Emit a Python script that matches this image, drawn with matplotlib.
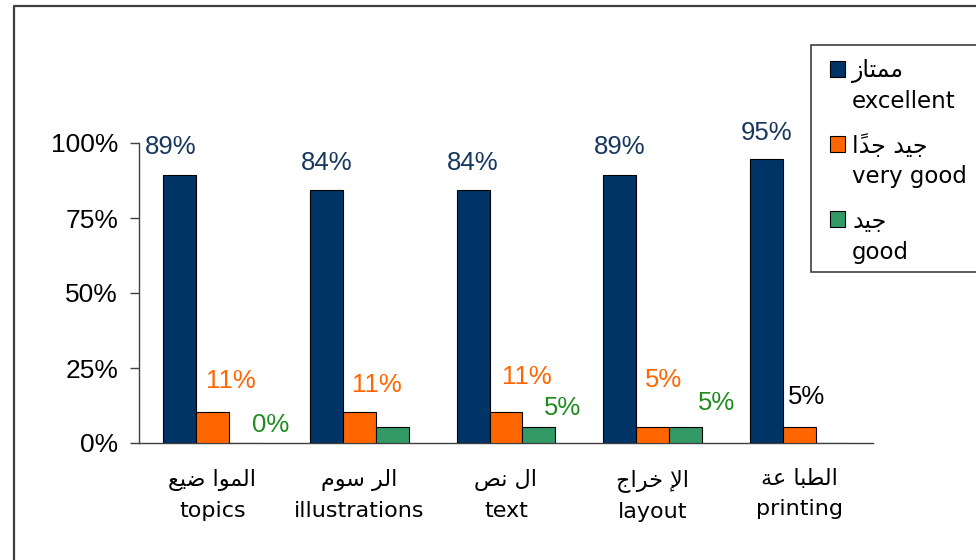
import matplotlib
matplotlib.use("Agg")
import matplotlib.pyplot as plt
from matplotlib.patches import Rectangle
from matplotlib.lines import Line2D
import numpy as np

# ---------------- data ----------------
cat_ar = ["الموا ضيع", "الر سوم", "ال نص", "الإ خراج", "الطبا عة"]
cat_en = ["topics", "illustrations", "text", "layout", "printing"]
series_ar = ["ممتاز", "جيد جدًا", "جيد"]
series_en = ["excellent", "very good", "good"]
excellent = [89.5, 84.2, 84.2, 89.5, 94.7]
very_good = [10.5, 10.5, 10.5, 5.3, 5.3]
good = [0.0, 5.3, 5.3, 5.3, 0.0]
lab_excellent = ["89%", "84%", "84%", "89%", "95%"]
lab_very_good = ["11%", "11%", "11%", "5%", "5%"]
lab_good = ["0%", None, "5%", "5%", None]
yticks = [0, 25, 50, 75, 100]
ytick_labels = ["0%", "25%", "50%", "75%", "100%"]

# ---------------- minimal Arabic shaping ----------------
FORMS = {
    'ا': ('\uFE8D', '\uFE8E', None, None),
    'إ': ('\uFE87', '\uFE88', None, None),
    'ب': ('\uFE8F', '\uFE90', '\uFE91', '\uFE92'),
    'ة': ('\uFE93', '\uFE94', None, None),
    'ت': ('\uFE95', '\uFE96', '\uFE97', '\uFE98'),
    'ج': ('\uFE9D', '\uFE9E', '\uFE9F', '\uFEA0'),
    'خ': ('\uFEA5', '\uFEA6', '\uFEA7', '\uFEA8'),
    'د': ('\uFEA9', '\uFEAA', None, None),
    'ر': ('\uFEAD', '\uFEAE', None, None),
    'ز': ('\uFEAF', '\uFEB0', None, None),
    'س': ('\uFEB1', '\uFEB2', '\uFEB3', '\uFEB4'),
    'ص': ('\uFEB9', '\uFEBA', '\uFEBB', '\uFEBC'),
    'ض': ('\uFEBD', '\uFEBE', '\uFEBF', '\uFEC0'),
    'ط': ('\uFEC1', '\uFEC2', '\uFEC3', '\uFEC4'),
    'ع': ('\uFEC9', '\uFECA', '\uFECB', '\uFECC'),
    'ل': ('\uFEDD', '\uFEDE', '\uFEDF', '\uFEE0'),
    'م': ('\uFEE1', '\uFEE2', '\uFEE3', '\uFEE4'),
    'ن': ('\uFEE5', '\uFEE6', '\uFEE7', '\uFEE8'),
    'و': ('\uFEED', '\uFEEE', None, None),
    'ي': ('\uFEF1', '\uFEF2', '\uFEF3', '\uFEF4'),
}
LAM_ALEF = {'ا': ('\uFEFB', '\uFEFC'), 'إ': ('\uFEF9', '\uFEFA')}
MARKS = set('\u064B\u064C\u064D\u064E\u064F\u0650\u0651\u0652')


def shape(s):
    clusters = []
    for ch in s:
        if ch in MARKS and clusters:
            clusters[-1][1] += ch
        else:
            clusters.append([ch, ""])
    out = []
    i = 0
    prev_joins = False
    while i < len(clusters):
        b, m = clusters[i]
        if b == 'ل' and i + 1 < len(clusters) and clusters[i + 1][0] in LAM_ALEF:
            lig = LAM_ALEF[clusters[i + 1][0]]
            g = lig[1] if prev_joins else lig[0]
            out.append(m + clusters[i + 1][1] + g)
            prev_joins = False
            i += 2
            continue
        if b in FORMS:
            f = FORMS[b]
            dual = f[2] is not None
            nxt = clusters[i + 1][0] if i + 1 < len(clusters) else None
            next_joins = dual and nxt in FORMS
            if prev_joins and next_joins:
                g = f[3]
            elif prev_joins:
                g = f[1]
            elif next_joins:
                g = f[2]
            else:
                g = f[0]
            out.append(m + g)
            prev_joins = dual
        else:
            out.append(m + b)
            prev_joins = False
        i += 1
    return "".join(reversed(out))


# ---------------- figure ----------------
W, H = 976, 560
fig = plt.figure(figsize=(W / 100, H / 100), dpi=100)
fig.patch.set_facecolor("white")

ax = fig.add_axes([139 / W, (H - 443) / H, (873 - 139) / W, (443 - 143) / H])

c_exc, c_vg, c_g = "#003366", "#FF6600", "#339966"
lc_exc, lc_vg, lc_g = "#17375E", "#FF6600", "#1E8C1E"

x = np.arange(len(cat_en))
bw = 0.2245
b1 = ax.bar(x - bw, excellent, bw, color=c_exc, edgecolor="black", linewidth=0.8, zorder=3)
b2 = ax.bar(x, very_good, bw, color=c_vg, edgecolor="black", linewidth=0.8, zorder=3)
b3 = ax.bar(x + bw, good, bw, color=c_g, edgecolor="black", linewidth=0.8, zorder=3)

ax.set_xlim(-0.5, 4.5)
ax.set_ylim(0, 100)

# label offsets (points) relative to bar top-centre
off_exc = [(-6, 20), (0, 20), (0, 20), (0, 20), (0, 19)]
off_vg = [(13, 22), (13, 19), (15, 25), (8, 34), (5, 22)]
off_g = [(18, 13), (0, 0), (17, 14), (22, 17), (0, 0)]
lab_font = dict(family=["Liberation Sans", "DejaVu Sans"], fontsize=18.5)

for bars, labs, offs, col in [(b1, lab_excellent, off_exc, lc_exc),
                              (b2, lab_very_good, off_vg, lc_vg),
                              (b3, lab_good, off_g, lc_g)]:
    for k, (r, lab, off) in enumerate(zip(bars, labs, offs)):
        if lab is None:
            continue
        c = col
        if bars is b2 and k == 4:
            c = "black"
        ax.annotate(lab, (r.get_x() + r.get_width() / 2, r.get_height()),
                    xytext=off, textcoords="offset points", ha="center", va="center",
                    color=c, **lab_font)

# axes styling
for s in ["top", "right"]:
    ax.spines[s].set_visible(False)
ax.spines["left"].set_color("#404040")
ax.spines["bottom"].set_color("#404040")
ax.spines["left"].set_linewidth(1.0)
ax.spines["bottom"].set_linewidth(1.0)

ax.set_yticks(yticks)
ax.set_yticklabels(ytick_labels, family=["Liberation Sans", "DejaVu Sans"], fontsize=19)
ax.tick_params(axis="y", length=6.5, width=1, pad=8.5, colors="#404040", labelcolor="black")

ax.set_xticks(x)
ax.set_xticklabels([shape(a) + "\n" + e for a, e in zip(cat_ar, cat_en)],
                   family=["DejaVu Sans"], fontsize=16, linespacing=1.6)
ax.tick_params(axis="x", length=0, pad=19)

# outer border (top & left)
fig.add_artist(Line2D([14 / W, 14 / W, 1.0], [0.0, 1 - 6 / H, 1 - 6 / H],
                      transform=fig.transFigure, color="#404040", linewidth=1.6))

# legend (manual)
fig.add_artist(Rectangle((811 / W, 1 - 272 / H), (W + 5 - 811) / W, (272 - 45) / H,
                         transform=fig.transFigure, facecolor="white",
                         edgecolor="#404040", linewidth=1.2, clip_on=False))
cols = [c_exc, c_vg, c_g]
for i, (a, e) in enumerate(zip(series_ar, series_en)):
    ytop = 61 + 75 * i
    fig.add_artist(Rectangle((830 / W, 1 - (ytop + 16) / H), 15 / W, 16 / H,
                             transform=fig.transFigure, facecolor=cols[i],
                             edgecolor="black", linewidth=0.8))
    fig.text(852 / W, 1 - (ytop + 10) / H, shape(a), family=["DejaVu Sans"],
             fontsize=17, ha="left", va="center")
    fig.text(852 / W, 1 - (ytop + 41) / H, e, family=["DejaVu Sans"],
             fontsize=16.5, ha="left", va="center")

fig.savefig("out.png", dpi=100, facecolor="white")
